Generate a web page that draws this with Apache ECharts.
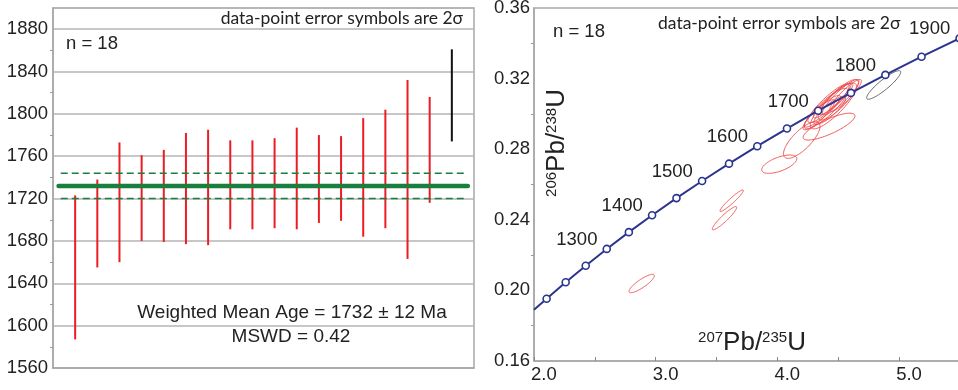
<!DOCTYPE html>
<html><head><meta charset="utf-8">
<script src="https://cdn.jsdelivr.net/npm/echarts@6/dist/echarts.min.js"></script>
<style>html,body{margin:0;padding:0;background:#fff}#c{width:958px;height:390px}</style>
</head><body><div id="c"></div>
<script>
// ---- Left panel: weighted mean plot (2σ error bars, Ma) ----
const spotIndex = [1,2,3,4,5,6,7,8,9,10,11,12,13,14,15,16,17,18];
const ageLow  = [1587,1655,1660,1680,1679,1677,1676,1691,1691,1692,1691,1697,1699,1684,1692,1663,1716,1774];
const ageHigh = [1723,1738,1773,1761,1766,1782,1785,1775,1775,1777,1787,1780,1779,1796,1804,1832,1816,1861];
const rejected = [0,0,0,0,0,0,0,0,0,0,0,0,0,0,0,0,0,1];
const meanAge = 1732;
const meanErr = 12;
const meanSpan = [0.25, 18.72];
const ageTicks = [1560,1600,1640,1680,1720,1760,1800,1840,1880];

// ---- Right panel: concordia ----
const concAge = [null,1150,1200,1250,1300,1350,1400,1450,1500,1550,1600,1650,1700,1750,1800,1850,1900];
const concX   = [2.0,2.1037,2.2603,2.4249,2.5977,2.7793,2.9701,3.1705,3.3810,3.6021,3.8344,4.0784,4.3348,4.6040,4.8869,5.1840,5.4962];
const concY   = [0.189,0.1953,0.2046,0.2140,0.2235,0.2330,0.2426,0.2523,0.2620,0.2718,0.2817,0.2917,0.3018,0.3119,0.3221,0.3324,0.3428];
const labelledAges = [1300,1400,1500,1600,1700,1800,1900];

// ellipses: centre (207/235, 206/238), 2σ half-extents, correlation
const ellX   = [2.885,3.624,3.565,4.015,4.200,4.424,4.420,4.450,4.480,4.400,4.500,4.370,4.460,4.520,4.430,4.340,4.560,4.873];
const ellY   = [0.2039,0.2508,0.2409,0.2715,0.2852,0.2928,0.3060,0.3075,0.3085,0.3030,0.3080,0.3015,0.3045,0.3095,0.3020,0.2995,0.3105,0.3164];
const ellSX  = [0.104,0.096,0.100,0.144,0.150,0.213,0.170,0.155,0.140,0.180,0.165,0.150,0.190,0.150,0.130,0.130,0.130,0.140];
const ellSY  = [0.0052,0.0061,0.0066,0.0052,0.0104,0.0076,0.0110,0.0098,0.0090,0.0115,0.0115,0.0090,0.0130,0.0100,0.0080,0.0085,0.0090,0.0081];
const ellRho = [0.85,0.95,0.93,0.60,0.75,0.80,0.90,0.92,0.90,0.88,0.85,0.90,0.85,0.90,0.85,0.88,0.90,0.90];
const ellRejected = [0,0,0,0,0,0,0,0,0,0,0,0,0,0,0,0,0,1];

const RED = '#ec1c24', GREEN = '#1a7f3c', NAVY = '#2b3590', GRAYLINE = '#a8a8a8';
const FONT = '"Liberation Sans", Arial, sans-serif';
const NOTE_FONT = 'Lato, "Open Sans", sans-serif';

const chart = echarts.init(document.getElementById('c'), null, {renderer: 'canvas'});

const barData = spotIndex.map((s, i) => [s, ageLow[i], ageHigh[i], rejected[i]]);
const ellData = ellX.map((x, i) => [x, ellY[i], ellSX[i], ellSY[i], ellRho[i], ellRejected[i]]);
const concData = concX.map((x, i) => {
  const a = concAge[i];
  const item = {value: [x, concY[i]]};
  if (a === null) { item.symbol = 'none'; }
  else if (labelledAges.indexOf(a) >= 0) {
    item.label = {show: true, formatter: String(a)};
  }
  return item;
});

const option = {
  animation: false,
  backgroundColor: '#fff',
  grid: [
    {left: 53, top: 8, width: 421, height: 360, show: true, borderColor: GRAYLINE, borderWidth: 1.5, outerBoundsMode: 'none', containLabel: false},
    {left: 534, top: 8, width: 426, height: 353, show: true, borderColor: GRAYLINE, borderWidth: 1.5, outerBoundsMode: 'none', containLabel: false}
  ],
  xAxis: [
    {gridIndex: 0, type: 'value', min: 0, max: 19, axisLabel: {show: false}, axisTick: {show: false},
     splitLine: {show: false}, axisLine: {show: true, lineStyle: {color: GRAYLINE, width: 1.5}}},
    {gridIndex: 1, type: 'value', min: 2, max: 5.5, interval: 1,
     axisLine: {show: true, onZero: false, lineStyle: {color: GRAYLINE, width: 1.5}},
     axisTick: {show: true, inside: true, length: 4, lineStyle: {color: '#888'}},
     minorTick: {show: true, splitNumber: 2, length: 4, lineStyle: {color: '#888'}},
     splitLine: {show: false},
     axisLabel: {color: '#222', fontSize: 18.5, fontFamily: FONT, margin: 4, align: 'left', padding: [0,0,0,-3],
                 showMaxLabel: false, formatter: v => v.toFixed(1)}}
  ],
  yAxis: [
    {gridIndex: 0, type: 'value', min: 1560, max: 1900, interval: 40,
     axisLine: {show: true, lineStyle: {color: GRAYLINE, width: 1.5}},
     axisTick: {show: false},
     minorTick: {show: true, splitNumber: 2, length: 3, lineStyle: {color: '#999'}},
     splitLine: {show: true, lineStyle: {color: '#b4b4b4', width: 1.5}},
     axisLabel: {color: '#222', fontSize: 18.5, fontFamily: FONT, margin: 5, showMaxLabel: false,
                 formatter: v => (ageTicks.indexOf(v) >= 0 ? String(v) : '')}},
    {gridIndex: 1, type: 'value', min: 0.16, max: 0.36, interval: 0.04,
     axisLine: {show: true, onZero: false, lineStyle: {color: GRAYLINE, width: 1.5}},
     axisTick: {show: false},
     minorTick: {show: true, splitNumber: 2, length: 3, lineStyle: {color: '#999'}},
     splitLine: {show: false},
     axisLabel: {color: '#222', fontSize: 18.5, fontFamily: FONT, margin: 4, formatter: v => v.toFixed(2)}}
  ],
  series: [
    {
      type: 'custom', xAxisIndex: 0, yAxisIndex: 0, data: barData, encode: {x: 0, y: [1, 2]},
      renderItem: (params, api) => {
        const x = api.value(0);
        const p1 = api.coord([x, api.value(1)]);
        const p2 = api.coord([x, api.value(2)]);
        return {type: 'line', shape: {x1: p1[0], y1: p1[1], x2: p2[0], y2: p2[1]},
                style: {stroke: api.value(3) ? '#111' : RED, lineWidth: 2}};
      }, z: 3
    },
    {
      type: 'line', xAxisIndex: 0, yAxisIndex: 0, symbol: 'none', z: 4,
      data: [[meanSpan[0], meanAge], [meanSpan[1], meanAge]],
      lineStyle: {color: GREEN, width: 4.5, cap: 'round'}
    },
    {
      type: 'line', xAxisIndex: 0, yAxisIndex: 0, symbol: 'none', z: 4,
      data: [[meanSpan[0] + 0.1, meanAge + meanErr], [meanSpan[1] - 0.05, meanAge + meanErr]],
      lineStyle: {color: GREEN, width: 1.5, type: [7, 4]}
    },
    {
      type: 'line', xAxisIndex: 0, yAxisIndex: 0, symbol: 'none', z: 4,
      data: [[meanSpan[0] + 0.1, meanAge - meanErr], [meanSpan[1] - 0.05, meanAge - meanErr]],
      lineStyle: {color: GREEN, width: 1.5, type: [7, 4]}
    },
    {
      type: 'custom', xAxisIndex: 1, yAxisIndex: 1, data: ellData, encode: {x: 0, y: 1}, z: 2,
      renderItem: (params, api) => {
        const cx = api.value(0), cy = api.value(1), sx = api.value(2), sy = api.value(3), r = api.value(4);
        const q = Math.sqrt(1 - r * r);
        const pts = [];
        for (let k = 0; k < 90; k++) {
          const t = k / 90 * Math.PI * 2;
          const c = Math.cos(t), s = Math.sin(t);
          pts.push(api.coord([cx + sx * c, cy + sy * (r * c + q * s)]));
        }
        return {type: 'polygon', shape: {points: pts},
                style: {fill: 'none', stroke: api.value(5) ? '#555' : '#ee4a4a', lineWidth: 0.9}};
      }
    },
    {
      type: 'line', xAxisIndex: 1, yAxisIndex: 1, data: concData, z: 5,
      symbol: 'circle', symbolSize: 7, showAllSymbol: true,
      lineStyle: {color: NAVY, width: 2},
      itemStyle: {color: '#fff', borderColor: NAVY, borderWidth: 1.6},
      label: {show: false, position: 'left', distance: 5, offset: [0, -9], color: '#222',
              fontSize: 18.5, fontFamily: FONT},
      emphasis: {disabled: true}
    }
  ],
  graphic: [
    {type: 'text', x: 463, y: 18, style: {text: 'data-point error symbols are 2σ', align: 'right', verticalAlign: 'middle',
      fontSize: 17.5, fontFamily: NOTE_FONT, fill: '#222'}},
    {type: 'text', x: 66, y: 44, style: {text: 'n = 18', align: 'left', verticalAlign: 'middle',
      fontSize: 18.5, fontFamily: FONT, fill: '#222'}},
    {type: 'text', x: 292, y: 313, style: {text: 'Weighted Mean Age = 1732 ± 12 Ma', align: 'center', verticalAlign: 'middle',
      fontSize: 19, fontFamily: FONT, fill: '#222'}},
    {type: 'text', x: 291, y: 337, style: {text: 'MSWD = 0.42', align: 'center', verticalAlign: 'middle',
      fontSize: 19, fontFamily: FONT, fill: '#222'}},
    {type: 'text', x: 553, y: 32, style: {text: 'n = 18', align: 'left', verticalAlign: 'middle',
      fontSize: 18.5, fontFamily: FONT, fill: '#222'}},
    {type: 'text', x: 658, y: 23, style: {text: 'data-point error symbols are 2σ', align: 'left', verticalAlign: 'middle',
      fontSize: 17.5, fontFamily: NOTE_FONT, fill: '#222'}},
    {type: 'text', x: 752, y: 343, style: {
      text: '{s|207}{b|Pb/}{s|235}{b|U}', align: 'center', verticalAlign: 'middle', fill: '#222',
      rich: {s: {fontSize: 15, fontFamily: FONT, fill: '#222', verticalAlign: 'top', padding: [0,0,8,0]},
             b: {fontSize: 26, fontFamily: FONT, fill: '#222'}}}},
    {type: 'text', x: 557, y: 143, rotation: Math.PI / 2, style: {
      text: '{s|206}{b|Pb/}{s|238}{b|U}', align: 'center', verticalAlign: 'middle', fill: '#222',
      rich: {s: {fontSize: 15, fontFamily: FONT, fill: '#222', verticalAlign: 'top', padding: [0,0,8,0]},
             b: {fontSize: 26, fontFamily: FONT, fill: '#222'}}}}
  ]
};
chart.setOption(option);
</script>
</body></html>
